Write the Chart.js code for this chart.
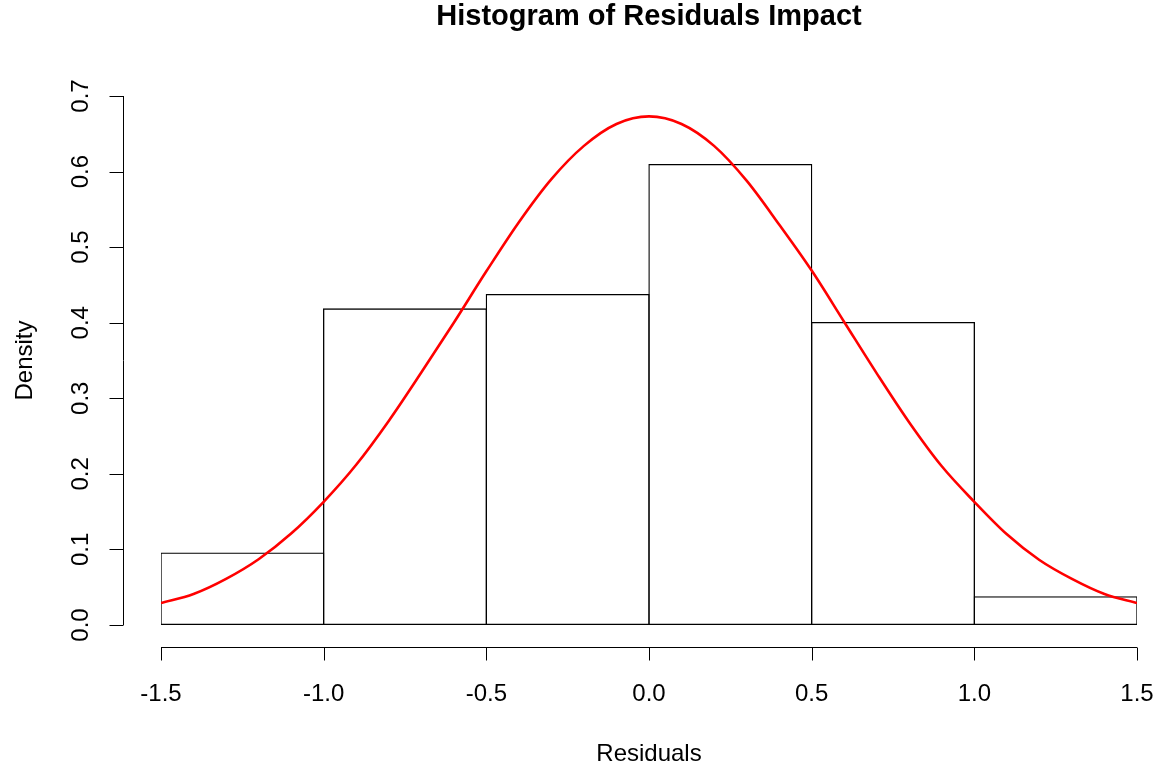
<!DOCTYPE html>
<html>
<head>
<meta charset="utf-8">
<title>Histogram of Residuals Impact</title>
<script src="https://cdn.jsdelivr.net/npm/chart.js@4/dist/chart.umd.min.js"></script>
<style>
    html, body { margin: 0; padding: 0; background: #fff; }
    #wrap { width: 1156px; height: 765px; }
</style>
</head>
<body>
<div id="wrap"><canvas id="chart" width="1156" height="765"></canvas></div>
<script>
// histogram bins (centres) and densities
const binCenters = [-1.25, -0.75, -0.25, 0.25, 0.75, 1.25];
const densities = [0.096, 0.419, 0.438, 0.610, 0.401, 0.038];

// density curve, every 0.1
const curveX = [-1.5, -1.4, -1.3, -1.2, -1.1, -1.0, -0.9, -0.8, -0.7, -0.6, -0.5, -0.4, -0.3, -0.2, -0.1,
    0.0, 0.1, 0.2, 0.3, 0.4, 0.5, 0.6, 0.7, 0.8, 0.9, 1.0, 1.1, 1.2, 1.3, 1.4, 1.5];
const curveY = [0.029, 0.041, 0.061, 0.087, 0.121, 0.163, 0.212, 0.270, 0.334, 0.400, 0.468, 0.533, 0.590, 0.634, 0.663,
    0.673, 0.663, 0.634, 0.588, 0.530, 0.469, 0.401, 0.333, 0.268, 0.210, 0.163, 0.120, 0.086, 0.061, 0.041, 0.029];

// axis ticks
const xTicks = [-1.5, -1.0, -0.5, 0.0, 0.5, 1.0, 1.5];
const xTickLabels = ['-1.5', '-1.0', '-0.5', '0.0', '0.5', '1.0', '1.5'];
const yTicks = [0.0, 0.1, 0.2, 0.3, 0.4, 0.5, 0.6, 0.7];
const yTickLabels = ['0.0', '0.1', '0.2', '0.3', '0.4', '0.5', '0.6', '0.7'];

const FONT = "'Liberation Sans', Arial, sans-serif";

// R style axes: detached from the plot region
const baseGraphics = {
    id: 'baseGraphics',
    afterDraw(chart) {
        const ctx = chart.ctx;
        const xs = chart.scales.x;
        const ys = chart.scales.y;
        const area = chart.chartArea;
        const midX = (area.left + area.right) / 2;
        const midY = (area.top + area.bottom) / 2;

        ctx.save();
        ctx.strokeStyle = '#000';
        ctx.fillStyle = '#000';
        ctx.lineWidth = 1;

        // title
        ctx.font = 'bold 29px ' + FONT;
        ctx.textAlign = 'center';
        ctx.textBaseline = 'alphabetic';
        ctx.fillText('Histogram of Residuals Impact', midX, 25);

        // x axis
        const axY = 647.5;
        ctx.beginPath();
        ctx.moveTo(xs.getPixelForValue(xTicks[0]), axY);
        ctx.lineTo(xs.getPixelForValue(xTicks[xTicks.length - 1]), axY);
        xTicks.forEach(v => {
            const px = Math.round(xs.getPixelForValue(v)) + 0.5;
            ctx.moveTo(px, axY);
            ctx.lineTo(px, axY + 13);
        });
        ctx.stroke();
        ctx.font = '24px ' + FONT;
        xTicks.forEach((v, i) => {
            ctx.fillText(xTickLabels[i], xs.getPixelForValue(v), 701);
        });
        ctx.fillText('Residuals', midX, 761);

        // y axis
        const axX = 123.5;
        ctx.beginPath();
        ctx.moveTo(axX, ys.getPixelForValue(yTicks[0]));
        ctx.lineTo(axX, ys.getPixelForValue(yTicks[yTicks.length - 1]));
        yTicks.forEach(v => {
            const py = Math.round(ys.getPixelForValue(v)) + 0.5;
            ctx.moveTo(axX, py);
            ctx.lineTo(axX - 14, py);
        });
        ctx.stroke();
        yTicks.forEach((v, i) => {
            ctx.save();
            ctx.translate(88, ys.getPixelForValue(v));
            ctx.rotate(-Math.PI / 2);
            ctx.fillText(yTickLabels[i], 0, 0);
            ctx.restore();
        });
        ctx.save();
        ctx.translate(32, midY);
        ctx.rotate(-Math.PI / 2);
        ctx.fillText('Density', 0, 0);
        ctx.restore();

        ctx.restore();
    }
};

new Chart(document.getElementById('chart'), {
    type: 'bar',
    data: {
        datasets: [{
            type: 'line',
            order: 0,
            data: curveX.map((x, i) => ({ x, y: curveY[i] })),
            borderColor: '#FF0000',
            borderWidth: 2.6,
            pointRadius: 0,
            cubicInterpolationMode: 'monotone',
            fill: false
        }, {
            type: 'bar',
            order: 1,
            data: binCenters.map((x, i) => ({ x, y: densities[i] })),
            backgroundColor: 'rgba(255,255,255,0)',
            borderColor: '#000',
            borderWidth: 1.3,
            borderSkipped: false,
            // a hair wider than the bin so neighbouring borders overlap into one line
            barPercentage: 1.008,
            categoryPercentage: 1
        }]
    },
    options: {
        responsive: false,
        animation: false,
        layout: {
            padding: { left: 161, right: 19, top: 96, bottom: 140 }
        },
        plugins: {
            legend: { display: false },
            tooltip: { enabled: false },
            title: { display: false }
        },
        scales: {
            x: {
                type: 'linear',
                min: -1.5,
                max: 1.5,
                offset: false,
                display: false
            },
            y: {
                type: 'linear',
                min: 0,
                max: 0.7,
                display: false
            }
        }
    },
    plugins: [baseGraphics]
});
</script>
</body>
</html>
